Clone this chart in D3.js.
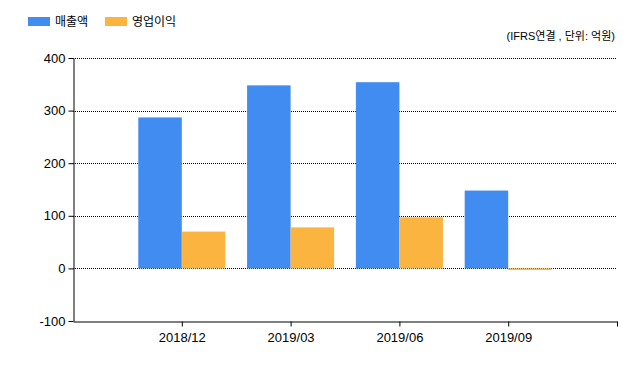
<!DOCTYPE html>
<html><head><meta charset="utf-8">
<script src="https://cdn.jsdelivr.net/npm/d3@7/dist/d3.min.js"></script>
<style>body{margin:0;background:#fff}svg{display:block;font-family:"Liberation Sans","Noto Sans CJK KR",sans-serif}</style>
</head><body>
<svg id="c" width="640" height="368"></svg>
<script>
const categories = ["2018/12","2019/03","2019/06","2019/09"];
const seriesNames = ["매출액","영업이익"];
const sales = [287, 348, 354, 148];
const opProfit = [70, 78, 97, -3];
const yTicks = [-100, 0, 100, 200, 300, 400];
const colors = ["#418CF0", "#FCB441"];
const note = "(IFRS연결 , 단위: 억원)";

(function () {
const svg = d3.select("#c");
const pl = 73, pr = 617, pt = 58, pb = 321;
const x = d3.scaleLinear().domain([0, 5]).range([pl, pr]);
const y = d3.scaleLinear().domain([-100, 400]).range([pb, pt]);
const groupW = (x(1) - x(0)) * 0.8;
const bw = groupW / 2;

// grid
svg.append("g").selectAll("line").data(yTicks.filter(t => t > -100)).join("line")
  .attr("x1", pl).attr("x2", pr)
  .attr("y1", d => Math.round(y(d)) + 0.5).attr("y2", d => Math.round(y(d)) + 0.5)
  .attr("stroke", "#000").attr("stroke-dasharray", "1,1");

// bars
const series = [sales, opProfit];
series.forEach((vals, si) => {
  svg.append("g").selectAll("rect").data(vals).join("rect")
    .attr("x", (d, i) => x(i + 1) - groupW / 2 + si * bw)
    .attr("width", bw)
    .attr("y", d => y(Math.max(0, d)))
    .attr("height", d => Math.abs(y(d) - y(0)))
    .attr("fill", colors[si]);
});

// y axis
const ya = svg.append("g").attr("transform", `translate(${pl + 0.5},0)`)
  .call(d3.axisLeft(y).tickValues(yTicks).tickSize(5).tickSizeOuter(0).tickPadding(3)
    .tickFormat(d => String(d)));
ya.select(".domain").attr("stroke", "#000");
ya.selectAll("text").attr("font-size", 13).attr("fill", "#000");

// x axis
const xa = svg.append("g").attr("transform", `translate(0,${pb + 0.5})`)
  .call(d3.axisBottom(x).tickValues([1, 2, 3, 4, 5]).tickSize(5).tickSizeOuter(0)
    .tickFormat(d => categories[d - 1] || "").tickPadding(6));
xa.select(".domain").attr("stroke", "#000");
xa.selectAll("text").attr("font-size", 13).attr("fill", "#000");

// legend
const lg = svg.append("g");
seriesNames.forEach((n, i) => {
  const lx = 28 + i * 77;
  lg.append("rect").attr("x", lx).attr("y", 17).attr("width", 22).attr("height", 9).attr("fill", colors[i]);
  lg.append("text").attr("x", lx + 27).attr("y", 26).attr("font-size", 12).attr("fill", "#000").text(n);
});

svg.append("text").attr("x", 615).attr("y", 40).attr("text-anchor", "end")
  .attr("font-size", 11).attr("fill", "#000").text(note);
})();
</script>
</body></html>
